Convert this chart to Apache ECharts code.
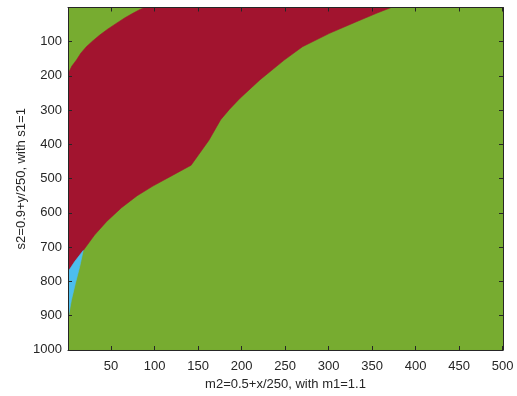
<!DOCTYPE html>
<html>
<head>
<meta charset="utf-8">
<script src="https://cdn.jsdelivr.net/npm/echarts@6/dist/echarts.min.js"></script>
<style>html,body{margin:0;padding:0;background:#fff}#c{width:517px;height:396px}</style>
</head>
<body>
<div id="c"></div>
<script>
// axis extents and ticks
const xExtent = [0.5, 500.5];
const yExtent = [0.5, 1000.5];
const xTicks = [50, 100, 150, 200, 250, 300, 350, 400, 450, 500];
const yTicks = [100, 200, 300, 400, 500, 600, 700, 800, 900, 1000];

// region boundaries ([x, y])
const redUpperEdge = [[0.5,195],[4.8,172],[10.2,154],[15.2,134],[21.6,115],[28.9,98],[37,81],[46,64],[56,47],[65.6,31],[75,17.5],[82.7,7],[88.7,0.5]];
const redLowerEdge = [[372,0.5],[355,17.5],[332,42],[301,76],[270,115],[249,154],[221,212],[198,266],[186,298],[176,328],[162.5,388],[149,436],[142,461],[121,490],[98,522],[80,550],[62,585],[45,625],[31,665],[18,710]];
const redBlueEdge = [[18,710],[8,743],[0.5,772]];
const blueGreenEdge = [[18,710],[14,757],[9,806],[4.4,855],[1.3,899],[0.5,905]];

const colors = { green: '#77AC30', red: '#A2142F', blue: '#4DBEEE' };

const greenRegion = [[xExtent[0],yExtent[0]],[xExtent[1],yExtent[0]],[xExtent[1],yExtent[1]],[xExtent[0],yExtent[1]]];
const redRegion = redUpperEdge.concat(redLowerEdge, redBlueEdge.slice(1));
const blueRegion = redBlueEdge.slice().reverse().concat(blueGreenEdge.slice(1));

function polygonSeries(name, pts, color) {
  return {
    type: 'custom', name: name, coordinateSystem: 'cartesian2d', clip: true,
    data: [[pts[0][0], pts[0][1]]],
    renderItem: function (params, api) {
      return { type: 'polygon', shape: { points: pts.map(p => api.coord(p)) },
        style: { fill: color, stroke: color, lineWidth: 0.6 } };
    },
    silent: true
  };
}

const txt = '#262626';
const font = 'Liberation Sans, Arial, sans-serif';
const lineStyle = { color: '#262626', width: 1 };
const fmt = v => String(v);

const chart = echarts.init(document.getElementById('c'), null, { renderer: 'canvas' });
chart.setOption({
  animation: false,
  grid: { left: 68, right: 14, top: 7.5, bottom: 46, containLabel: false },
  xAxis: [{
    type: 'value', min: xExtent[0], max: xExtent[1], position: 'bottom', z: 10,
    name: 'm2=0.5+x/250, with m1=1.1', nameLocation: 'middle', nameGap: 28, nameMoveOverlap: false,
    nameTextStyle: { color: txt, fontFamily: font, fontSize: 13 },
    axisLine: { show: true, onZero: false, lineStyle: lineStyle },
    axisTick: { show: true, inside: true, length: 4, customValues: xTicks, lineStyle: lineStyle },
    axisLabel: { customValues: xTicks, formatter: fmt, color: txt, fontFamily: font, fontSize: 13, margin: 10 },
    splitLine: { show: false }
  }, {
    type: 'value', min: xExtent[0], max: xExtent[1], position: 'top', z: 10,
    axisLine: { show: true, onZero: false, lineStyle: lineStyle },
    axisTick: { show: true, inside: true, length: 4, customValues: xTicks, lineStyle: lineStyle },
    axisLabel: { show: false }, splitLine: { show: false }
  }],
  yAxis: [{
    type: 'value', min: yExtent[0], max: yExtent[1], inverse: true, position: 'left', z: 10,
    name: 's2=0.9+y/250, with s1=1', nameLocation: 'middle', nameGap: 40, nameRotate: 90, nameMoveOverlap: false,
    nameTextStyle: { color: txt, fontFamily: font, fontSize: 13 },
    axisLine: { show: true, onZero: false, lineStyle: lineStyle },
    axisTick: { show: true, inside: true, length: 4, customValues: yTicks, lineStyle: lineStyle },
    axisLabel: { customValues: yTicks, formatter: fmt, color: txt, fontFamily: font, fontSize: 13, margin: 6 },
    splitLine: { show: false }
  }, {
    type: 'value', min: yExtent[0], max: yExtent[1], inverse: true, position: 'right', z: 10,
    axisLine: { show: true, onZero: false, lineStyle: lineStyle },
    axisTick: { show: true, inside: true, length: 4, customValues: yTicks, lineStyle: lineStyle },
    axisLabel: { show: false }, splitLine: { show: false }
  }],
  series: [
    polygonSeries('green', greenRegion, colors.green),
    polygonSeries('red', redRegion, colors.red),
    polygonSeries('blue', blueRegion, colors.blue)
  ]
});
</script>
</body>
</html>
